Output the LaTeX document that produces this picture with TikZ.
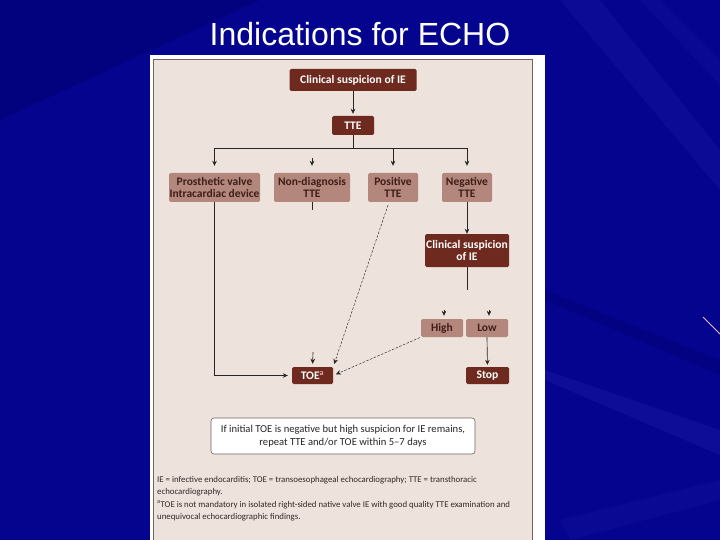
\documentclass[tikz,border=0pt]{standalone}
\usepackage{fontspec}
\setmainfont{Carlito}
\newfontfamily\titlefont{Liberation Sans}
\usetikzlibrary{arrows.meta,calc}
\definecolor{bgblue}{RGB}{4,4,142}
\definecolor{bgdark}{RGB}{0,0,95}
\definecolor{bglight}{RGB}{40,40,185}
\definecolor{beige}{RGB}{237,226,220}
\definecolor{frame}{RGB}{110,100,98}
\definecolor{darkbrown}{RGB}{110,42,30}
\definecolor{lightbrown}{RGB}{180,135,124}
\definecolor{txtbrown}{RGB}{62,30,24}
\definecolor{pinkish}{RGB}{235,170,170}
\definecolor{foottxt}{RGB}{50,40,40}
\tikzset{
  darkbox/.style={fill=darkbrown, text=white, font=\bfseries\fontsize{11.6}{11.5}\selectfont,
    rounded corners=1.5pt, inner sep=0pt, align=center},
  lightbox/.style={fill=lightbrown, text=txtbrown, font=\bfseries\fontsize{11.5}{11.5}\selectfont,
    rounded corners=1.5pt, inner sep=0pt, align=center},
  arr/.style={-{Stealth[length=5pt,width=4.6pt]}, draw=black!85, line width=0.65pt},
  line/.style={draw=black!85, line width=0.65pt},
  dashline/.style={arr, line width=0.45pt, dash pattern=on 2.5pt off 1.5pt},
  notebox/.style={fill=white, draw=frame, line width=0.6pt, rounded corners=3pt,
    align=center, font=\fontsize{10.6}{13}\selectfont, text=black!85},
}
\begin{document}
\begin{tikzpicture}[x=1pt,y=-1pt]
\useasboundingbox (0,0) rectangle (720,540);
% background
\fill[bgblue] (0,0) rectangle (720,540);
\fill[bgdark,opacity=0.3] (0,0) -- (260,0) -- (0,120) -- cycle;
\fill[bglight,opacity=0.2] (560,0) -- (600,0) -- (720,150) -- (720,190) -- cycle;
\fill[bglight,opacity=0.25] (545,370) -- (720,430) -- (720,455) -- (545,380) -- cycle;
\fill[bgdark,opacity=0.25] (545,290) -- (720,360) -- (720,375) -- (545,300) -- cycle;
\fill[bglight,opacity=0.15] (560,520) -- (720,480) -- (720,500) -- (570,540) -- cycle;
\fill[bglight,opacity=0.15] (640,0) -- (660,0) -- (720,60) -- (720,85) -- cycle;
\draw[pinkish!80!white, line width=0.9pt] (703,317) -- (720,334);
% title
\node[text=white, font=\titlefont\fontsize{32}{36}\selectfont] (title) at (360,34) {Indications for ECHO};
% image panel
\fill[white] (150,55) rectangle (545,540);
\filldraw[fill=beige, draw=frame, line width=0.8pt] (153.5,59) rectangle (532,545);
% nodes
\node[darkbox, minimum width=127pt, minimum height=22pt] (cs1) at (353,80) {Clinical suspicion of IE};
\node[darkbox, minimum width=42pt, minimum height=19pt] (tte) at (353,125.5) {TTE};
\node[lightbox, minimum width=91pt, minimum height=29pt] (pv) at (214.5,187.5) {Prosthetic valve\\Intracardiac device};
\node[lightbox, minimum width=76pt, minimum height=29pt] (nd) at (312,187.5) {Non-diagnosis\\TTE};
\node[lightbox, minimum width=50pt, minimum height=29pt] (pos) at (393,187.5) {Positive\\TTE};
\node[lightbox, minimum width=50pt, minimum height=29pt] (neg) at (467,187.5) {Negative\\TTE};
\node[darkbox, minimum width=84pt, minimum height=33pt] (cs2) at (467,250.5) {Clinical suspicion\\of IE};
\node[lightbox, minimum width=42pt, minimum height=18pt] (high) at (442,328) {High};
\node[lightbox, minimum width=42pt, minimum height=18pt] (low) at (487,328) {Low};
\node[darkbox, minimum width=43pt, minimum height=17pt] (stop) at (487.5,375.5) {Stop};
\node[darkbox, minimum width=41pt, minimum height=17pt] (toe) at (312.5,375.5) {TOE\textsuperscript{\color{pinkish}a}};
\node[notebox, minimum width=264pt, minimum height=36pt] (note) at (343,436)
  {If initial TOE is negative but high suspicion for IE remains,\\repeat TTE and/or TOE within 5–7 days};
\node[anchor=north west, align=left, inner sep=0pt, text=foottxt,
      font=\fontsize{8.8}{12.4}\selectfont] (foot) at (157,476)
  {IE = infective endocarditis; TOE = transoesophageal echocardiography; TTE = transthoracic\\
   echocardiography.\\
   \textsuperscript{a}TOE is not mandatory in isolated right-sided native valve IE with good quality TTE examination and\\
   unequivocal echocardiographic findings.};
% coordinates
\coordinate (split) at (353,148);
\coordinate (ndin) at (312,158);
\coordinate (ndout) at (312,210);
\coordinate (cs2out) at (467,290);
\coordinate (highin) at (444,310);
\coordinate (lowin) at (489,310);
\coordinate (toein) at (313,352);
% connectors
\draw[arr, shorten >=2pt] (cs1) -- (tte);
\draw[line] (tte.south) -- (split);
\draw[line] (pv.north |- split) -- (neg.north |- split);
\draw[arr, shorten >=7pt] (pv.north |- split) -- (pv.north);
\draw[arr, shorten >=7pt] (pos.north |- split) -- (pos.north);
\draw[arr, shorten >=7pt] (neg.north |- split) -- (neg.north);
\draw[arr, shorten >=7pt] (ndin) -- (nd.north);
\draw[line] (nd.south) -- (ndout);
\draw[arr, shorten >=4pt] (pv.south) |- (toe.west);
\draw[dashline, shorten <=3pt, shorten >=3pt] ($(pos.south)+(-4,0)$) -- (toe.north east);
\draw[arr] (neg.south) -- (cs2.north);
\draw[line] (cs2.south) -- (cs2out);
\draw[arr, shorten >=3pt] (highin) -- (high.north -| highin);
\draw[arr, shorten >=3pt] (lowin) -- (low.north -| lowin);
\draw[arr, shorten >=3pt] (toein) -- (toe.north);
\draw[arr, shorten >=2pt] (low.south) -- (stop.north);
\draw[dashline, shorten <=1pt, shorten >=3pt] (high.south west) -- (toe.east);
\end{tikzpicture}
\end{document}
